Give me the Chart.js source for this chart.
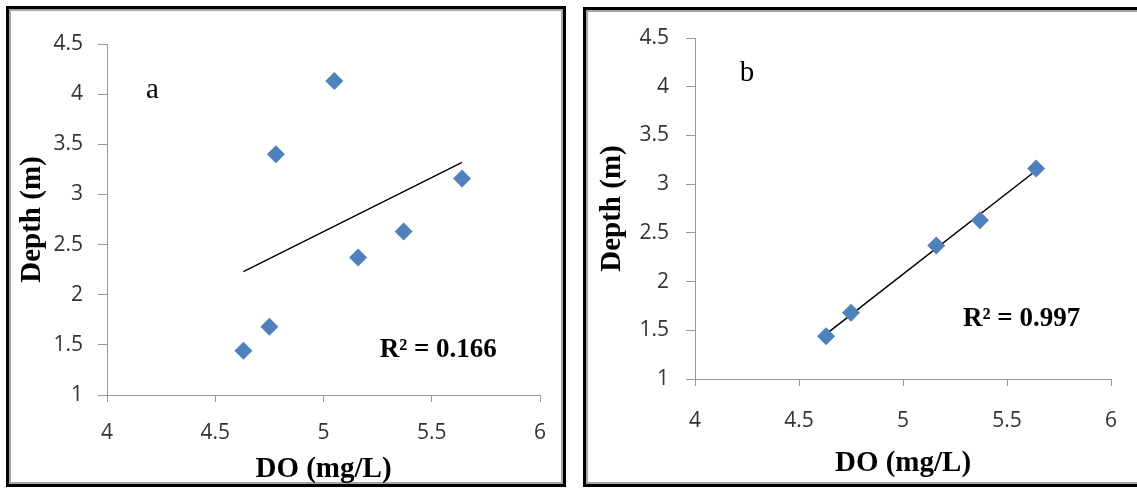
<!DOCTYPE html>
<html>
<head>
<meta charset="utf-8">
<script src="https://cdn.jsdelivr.net/npm/chart.js@4.4.1/dist/chart.umd.min.js"></script>
<style>
  body { margin: 0; background: #fff; width: 1137px; height: 488px; overflow: hidden; position: relative; }
  .panel { position: absolute; box-sizing: border-box; border: 3px solid #000; box-shadow: inset 0 0 0 2px #a6a6a6; background: #fff; }
  canvas { position: absolute; }
</style>
</head>
<body>
<div class="panel" style="left:6px;top:6px;width:560px;height:481px;"></div>
<div class="panel" style="left:583px;top:7px;width:600px;height:480px;"></div>
<canvas id="chartA" width="550" height="474" style="left:10px;top:10px;"></canvas>
<canvas id="chartB" width="550" height="472" style="left:587px;top:12px;"></canvas>
<script>
// panel a: all samples
const doA = [4.63, 4.75, 4.78, 5.05, 5.16, 5.37, 5.64];
const depthA = [1.44, 1.68, 3.40, 4.13, 2.37, 2.63, 3.16];
const trendXA = [4.63, 5.64];
const trendYA = [2.23, 3.32];

// panel b: outliers removed
const doB = [4.63, 4.75, 5.16, 5.37, 5.64];
const depthB = [1.44, 1.68, 2.37, 2.63, 3.16];
const trendXB = [4.63, 5.64];
const trendYB = [1.46, 3.14];

const xTicks = [4, 4.5, 5, 5.5, 6];
const yTicks = [1, 1.5, 2, 2.5, 3, 3.5, 4, 4.5];

const pointColor = "#4F81BD";
const tickFont = { family: "Open Sans", size: 21 };
const titleFont = { family: "Liberation Serif", size: 29, weight: "bold" };

const toPoints = (xs, ys) => xs.map((x, i) => ({ x: x, y: ys[i] }));

// draws the panel letter and the R² note
const notesPlugin = {
  id: "notes",
  afterDatasetsDraw(chart, args, opts) {
    const ctx = chart.ctx;
    const sx = chart.scales.x;
    const sy = chart.scales.y;
    ctx.save();
    ctx.fillStyle = "#000";
    ctx.textAlign = "center";
    ctx.textBaseline = "middle";
    opts.items.forEach((it) => {
      ctx.font = it.font;
      ctx.fillText(it.text, sx.getPixelForValue(it.x), sy.getPixelForValue(it.y));
    });
    ctx.restore();
  },
};

function makeChart(id, xs, ys, tx, ty, geo, notes) {
  const ctx = document.getElementById(id).getContext("2d");
  return new Chart(ctx, {
    type: "scatter",
    data: {
      datasets: [
        {
          data: toPoints(xs, ys),
          pointStyle: "rectRot",
          pointRadius: 9,
          pointBackgroundColor: pointColor,
          pointBorderColor: pointColor,
          pointBorderWidth: 0,
          showLine: false,
        },
        {
          data: toPoints(tx, ty),
          showLine: true,
          borderColor: "#000",
          borderWidth: 1.5,
          pointRadius: 0,
        },
      ],
    },
    options: {
      responsive: false,
      animation: false,
      layout: { padding: { top: geo.top, right: geo.right, left: 0, bottom: 0 } },
      plugins: {
        legend: { display: false },
        tooltip: { enabled: false },
        notes: { items: notes },
      },
      scales: {
        x: {
          type: "linear",
          min: 4,
          max: 6,
          afterBuildTicks: (s) => { s.ticks = xTicks.map((v) => ({ value: v })); },
          afterFit: (s) => { s.height = geo.xh; s.paddingLeft = 0; s.paddingRight = 0; },
          ticks: { font: tickFont, color: "#333", padding: geo.xpad, callback: (v) => String(v) },
          grid: { drawOnChartArea: false, tickLength: 7, color: "#999" },
          border: { color: "#999" },
          title: { display: true, text: "DO (mg/L)", font: titleFont, color: "#000", padding: { top: 0, bottom: geo.xtp } },
        },
        y: {
          type: "linear",
          min: 1,
          max: 4.5,
          afterBuildTicks: (s) => { s.ticks = yTicks.map((v) => ({ value: v })); },
          afterFit: (s) => { s.width = geo.yw; s.paddingTop = 0; s.paddingBottom = 0; },
          ticks: { font: tickFont, color: "#333", padding: geo.ypad, callback: (v) => String(v) },
          grid: { drawOnChartArea: false, tickLength: 9, color: "#999" },
          border: { color: "#999" },
          title: { display: true, text: "Depth (m)", font: titleFont, color: "#000", padding: { top: geo.ytp, bottom: 0 } },
        },
      },
    },
    plugins: [notesPlugin],
  });
}

makeChart("chartA", doA, depthA, trendXA, trendYA,
  { top: 34, right: 20, xh: 89, yw: 97, xpad: 18, ypad: 15, xtp: -3, ytp: 5 },
  [
    { text: "a", x: 4.21, y: 4.04, font: "29px 'Liberation Serif'" },
    { text: "R² = 0.166", x: 5.53, y: 1.45, font: "bold 27px 'Liberation Serif'" },
  ]);

makeChart("chartB", doB, depthB, trendXB, trendYB,
  { top: 26, right: 26, xh: 105, yw: 108, xpad: 22, ypad: 17, xtp: 3, ytp: 8 },
  [
    { text: "b", x: 4.25, y: 4.14, font: "29px 'Liberation Serif'" },
    { text: "R² = 0.997", x: 5.57, y: 1.62, font: "bold 27px 'Liberation Serif'" },
  ]);
</script>
</body>
</html>
